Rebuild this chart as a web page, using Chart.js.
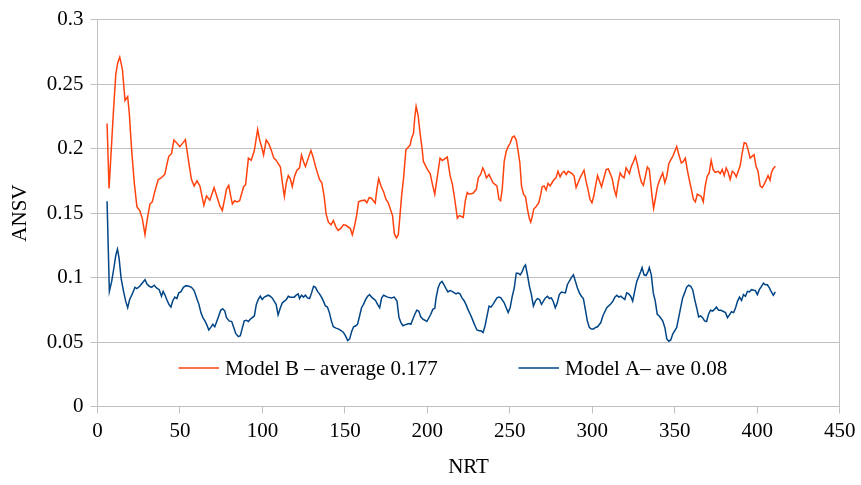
<!DOCTYPE html>
<html>
<head>
<meta charset="utf-8">
<script src="https://cdn.jsdelivr.net/npm/chart.js@4/dist/chart.umd.min.js"></script>
<style>
 html,body{margin:0;padding:0;background:#fff;}
 #wrap{width:861px;height:485px;}
</style>
</head>
<body>
<div id="wrap"><canvas id="chart" width="861" height="485"></canvas></div>
<script>
// x ticks / y ticks
const xTicks=[0,50,100,150,200,250,300,350,400,450];
const yTicks=[0,0.05,0.1,0.15,0.2,0.25,0.3];

const labelB="Model B – average 0.177";
const labelA="Model A– ave 0.08";

// Model B (orange)
const bX=[5.8,7.0,9.7,11.1,12.3,13.5,15.1,16.7,18.3,19.3,20.7,22.3,23.9,25.7,27.2,28.8,30.2,31.8,33.2,34.8,36.8,38.4,40.8,41.8,43.2,44.9,46.3,47.9,49.9,51.9,53.3,56.0,57.0,58.6,60.3,62.1,63.1,64.5,66.1,68.1,70.7,72.3,
74.1,75.7,77.1,78.2,79.6,80.8,81.8,83.2,84.6,86.2,88.6,89.8,91.5,93.2,95.1,97.1,98.3,99.5,100.7,102.3,103.9,105.3,106.9,108.3,110.9,112.1,113.3,114.5,115.7,116.9,118.1,119.5,120.9,122.5,123.7,124.9,126.1,127.8,129.4,130.6,132.2,134.6,136.0,137.4,138.6,140.0,141.6,143.0,144.6,145.9,147.7,149.1,
150.6,153.3,154.5,155.7,157.1,158.3,159.7,162.1,163.3,164.8,166.2,168.4,169.4,170.5,171.9,173.5,174.9,176.3,177.9,178.9,180.0,181.2,182.4,183.4,184.4,185.6,187.0,188.4,189.6,190.4,191.6,192.4,193.2,194.4,195.6,196.9,197.6,200.1,201.7,203.1,204.5,206.1,207.7,209.1,212.1,213.8,215.2,216.6,218.2,219.4,221.8,223.0,224.2,
225.3,227.7,229.7,230.9,232.3,233.6,234.6,235.8,237.4,239.8,242.2,243.4,244.4,245.4,246.6,247.8,249.0,250.2,251.5,252.7,253.9,255.1,256.1,257.1,258.3,259.5,260.7,261.9,262.7,263.5,264.5,265.9,267.6,268.8,269.6,270.8,272.0,273.2,274.4,275.6,276.8,278.0,279.2,280.5,281.7,282.9,284.2,285.4,287.8,289.0,290.2,291.4,292.6,295.0,296.2,297.4,298.6,299.8,
300.9,302.0,303.2,305.6,306.8,308.4,309.7,310.9,312.1,313.3,314.5,315.7,316.9,318.1,319.3,320.5,322.5,323.7,325.0,326.2,327.4,328.6,329.8,331.0,332.2,333.4,334.6,335.4,336.2,337.2,338.2,339.4,340.6,342.7,344.0,345.2,346.4,347.6,348.8,350.0,351.2,352.8,354.0,355.2,356.4,357.6,358.8,360.1,361.3,362.5,363.7,366.1,367.3,368.5,369.7,370.9,372.1,373.3,374.5,
376.4,377.6,378.8,380.0,381.2,382.4,383.6,384.9,386.1,387.3,388.5,389.7,390.9,392.1,393.3,394.5,395.7,396.9,398.1,399.3,400.5,401.8,403.0,404.2,405.4,406.6,407.8,408.6,409.6,411.0];
const bY=[.2194,.169,.2296,.2577,.2666,.2709,.2615,.2373,.2403,.227,.199,.1735,.1549,.1518,.1455,.1332,.1455,.157,.1587,.167,.176,.177,.18,.186,.194,.196,.2066,.2046,.2015,.2046,.207,.1837,.176,.171,.175,.171,.1646,.156,.1633,.16,.1697,.1633,
.1557,.152,.161,.1684,.1715,.163,.157,.1595,.1587,.1595,.1704,.172,.1926,.191,.1985,.2148,.2066,.2015,.195,.2066,.2036,.199,.1926,.191,.1857,.1735,.1628,.1735,.179,.1765,.1704,.1786,.1832,.185,.195,.19,.186,.1926,.1985,.194,.186,.176,.1735,.1633,.1493,.1429,.1409,.1442,.1391,.1365,.1383,.1409,
.1405,.138,.1332,.139,.148,.1587,.1595,.16,.158,.1621,.1613,.1577,.1684,.1766,.171,.1664,.1607,.158,.1518,.148,.134,.1307,.1332,.148,.1633,.1773,.199,.201,.2028,.2079,.2118,.2245,.2327,.2258,.2118,.199,.19,.1837,.1806,.1722,.1646,.1786,.1926,.1908,.1934,.179,.1722,.1607,.146,.148,.1467,.1595,.1659,
.1646,.1653,.1684,.1773,.1799,.185,.1824,.1773,.1799,.1735,.171,.1607,.1595,.1684,.19,.1977,.2015,.2041,.2087,.2097,.2066,.1977,.1888,.171,.1646,.1628,.1531,.1455,.1429,.1467,.1531,.1549,.158,.1646,.1704,.171,.1679,.173,.171,.1735,.176,.1773,.1824,.1781,.1811,.1824,.1799,.1824,.1806,.1786,.1697,.1735,.1773,.1832,.1748,.1684,.1607,.158,
.163,.171,.179,.1704,.176,.1837,.1842,.1806,.1766,.1684,.1633,.1735,.1811,.1786,.1773,.185,.1806,.1862,.19,.1939,.1875,.1799,.174,.1715,.1786,.1857,.1837,.1735,.1633,.1536,.1607,.1697,.1748,.1811,.1735,.1786,.1883,.1913,.1939,.1977,.2015,.1939,.1888,.19,.1926,.1837,.176,.1684,.1607,.1587,.1646,.1628,.1587,.171,.1786,.1811,.1908,.1837,.1816,
.1824,.1806,.1837,.179,.185,.1816,.176,.1824,.1811,.1781,.1824,.1868,.1964,.2046,.2041,.199,.1926,.1939,.1952,.1862,.1824,.171,.1697,.1722,.1755,.179,.1755,.1811,.1842,.1862];

// Model A (blue)
const aX=[5.8,7.2,8.6,9.9,11.1,12.1,13.1,14.3,15.7,17.1,18.3,19.5,21.1,22.7,23.9,25.6,27.2,28.8,30.0,31.4,32.8,34.4,35.8,37.4,38.8,39.8,40.8,42.0,43.3,44.5,45.7,46.9,48.1,49.3,50.5,52.1,53.7,55.4,57.0,58.6,60.1,61.5,62.7,63.9,65.1,66.3,67.5,68.7,69.9,71.1,72.3,73.5,
74.7,75.9,77.2,78.2,79.8,81.4,82.6,83.8,85.4,86.6,87.8,89.0,90.2,91.5,92.6,95.1,96.3,97.5,98.7,99.9,101.1,103.5,104.7,105.9,107.1,108.3,109.5,110.9,112.1,114.5,115.7,116.9,119.3,120.5,121.7,122.5,123.7,124.9,126.1,127.3,128.6,129.8,131.0,132.2,133.4,134.6,135.8,137.0,138.2,139.4,140.6,141.8,143.0,144.6,146.3,147.9,149.1,
150.3,151.7,152.9,154.1,155.3,156.7,157.7,158.9,160.1,161.3,162.6,163.8,165.0,166.2,168.6,169.8,171.1,172.3,173.5,175.9,178.3,179.9,181.6,182.8,184.0,185.2,186.4,187.6,188.8,190.0,191.2,192.4,193.6,194.8,196.0,197.3,198.5,199.7,202.1,203.3,204.5,205.3,206.5,207.7,208.9,210.1,211.3,212.5,213.8,215.0,217.4,218.6,219.8,221.0,222.2,223.4,224.6,
226.5,227.7,228.9,230.1,231.3,232.5,233.8,235.0,236.2,237.4,238.6,239.8,241.0,242.2,243.4,244.6,246.6,247.8,249.0,250.2,251.5,252.7,253.9,255.1,256.3,257.5,258.7,259.5,260.7,261.9,263.1,264.3,265.5,266.7,268.0,269.2,270.4,271.6,272.8,274.0,275.2,276.4,277.6,278.8,280.0,281.3,283.7,284.9,286.2,287.4,288.6,289.8,291.0,292.2,293.4,294.6,295.8,297.0,298.2,299.4,
300.8,302.0,303.2,305.2,306.4,307.6,308.8,311.3,312.5,313.7,314.9,316.1,317.3,318.5,319.7,320.9,322.1,323.3,324.5,325.7,327.0,328.2,329.4,330.2,331.4,332.6,333.8,334.6,335.8,337.0,338.2,339.4,340.6,342.7,344.0,345.2,346.4,347.6,348.8,351.2,352.4,353.6,354.8,356.0,357.2,358.4,359.7,360.9,362.1,363.3,364.5,365.7,366.9,368.1,369.3,370.5,371.7,372.9,374.1,375.3,
376.6,378.0,380.8,382.0,383.2,384.4,385.7,386.9,388.1,389.3,390.5,391.7,392.9,394.1,395.3,396.5,398.9,400.1,401.3,402.6,403.8,405.0,406.2,407.4,408.6,409.8,411.0];
const aY=[.1592,.0893,.097,.1072,.1174,.122,.1148,.0995,.0899,.0817,.0766,.083,.0873,.0924,.0914,.0932,.0957,.0983,.095,.0932,.0924,.094,.0919,.0906,.0855,.0893,.0868,.083,.0792,.0771,.0822,.0848,.0837,.0881,.0888,.0924,.0937,.0932,.0924,.0899,.0842,.0792,.0728,.0689,.0664,.0633,.0593,.0613,.0638,.0618,.0659,.0702,
.0746,.0758,.074,.0689,.0664,.0659,.0613,.0567,.0542,.0549,.0608,.0664,.0669,.0659,.0677,.0702,.0792,.083,.0855,.083,.0848,.0863,.0855,.0842,.0817,.0792,.071,.0766,.0804,.083,.0855,.0848,.0848,.0863,.0873,.0837,.0863,.0848,.0863,.0842,.0837,.0881,.0932,.0924,.0893,.0873,.0848,.0817,.0779,.0771,.0728,.0664,.0618,.0608,.06,.0587,.0574,
.0549,.0511,.0524,.0582,.0618,.0626,.0638,.0702,.0766,.0792,.083,.0855,.0868,.0848,.0822,.0792,.0766,.0842,.0863,.0848,.0842,.0848,.0817,.0689,.0651,.0626,.0633,.0638,.0643,.0638,.0677,.0715,.0746,.074,.0695,.0677,.0669,.0659,.0715,.0753,.0761,.0842,.0919,.0957,.097,.0944,.0914,.0888,.0899,.0893,.0873,.0881,.0873,.0842,.0822,.0792,.0753,
.0702,.0664,.0626,.0593,.0587,.0587,.0574,.0626,.0702,.0779,.0771,.0792,.0817,.0842,.0848,.0842,.0804,.0766,.0728,.0766,.0855,.0919,.1034,.1034,.1021,.1046,.1085,.1097,.1021,.0932,.0868,.0779,.0817,.0837,.083,.0792,.0817,.0842,.0855,.0837,.0842,.0812,.0766,.0804,.0868,.0888,.0881,.0944,.0975,.1001,.1021,.097,.0919,.0881,.0855,.0837,.0753,.0664,.0613,.06,
.06,.0613,.0618,.0651,.0702,.0735,.0766,.0797,.0817,.0848,.0863,.0848,.0855,.0842,.083,.0881,.0873,.0855,.0817,.0893,.097,.1008,.1046,.1077,.1021,.1016,.1046,.1077,.1021,.0881,.0817,.0715,.0702,.0664,.0613,.0524,.0506,.0516,.0562,.0613,.0689,.0766,.0842,.0881,.0924,.094,.0932,.0906,.083,.0766,.0695,.0702,.0689,.0664,.0659,.0715,.0746,.074,.0753,.0771,
.0746,.0746,.0728,.0689,.071,.0735,.0728,.0766,.0817,.0848,.0822,.0868,.0855,.0893,.0888,.0906,.0899,.0868,.0906,.0932,.0957,.0944,.0944,.0919,.0888,.0863,.0888];

const ORANGE="#ff420e",BLUE="#004586",GRID="#c0c0c0";
const FONT={family:"'Liberation Serif','Times New Roman',serif",size:21};

const pts=(xs,ys)=>xs.map((x,i)=>({x,y:ys[i]}));

// legend sits inside the plot, near the bottom
const insideLegend={
 id:"insideLegend",
 afterDraw(chart){
  const {ctx,chartArea:a}=chart;
  const y=a.bottom-38.5;
  const items=[[labelB,ORANGE,a.left+81],[labelA,BLUE,a.left+421]];
  ctx.save();
  ctx.font=FONT.size+"px "+FONT.family;
  ctx.textBaseline="middle";
  ctx.fillStyle="#000";
  items.forEach(([t,c,x0])=>{
   ctx.strokeStyle=c;ctx.lineWidth=1.5;
   ctx.beginPath();ctx.moveTo(x0,y);ctx.lineTo(x0+40.5,y);ctx.stroke();
   ctx.fillText(t,x0+46.5,y+1);
  });
  ctx.restore();
 }
};

new Chart(document.getElementById("chart"),{
 type:"line",
 data:{datasets:[
  {label:labelB,data:pts(bX,bY),borderColor:ORANGE,borderWidth:1.5,pointRadius:0,tension:0,fill:false},
  {label:labelA,data:pts(aX,aY),borderColor:BLUE,borderWidth:1.5,pointRadius:0,tension:0,fill:false}
 ]},
 options:{
  responsive:false,animation:false,
  layout:{padding:{top:15,right:19.3,left:0,bottom:0}},
  plugins:{legend:{display:false},tooltip:{enabled:false}},
  scales:{
   x:{type:"linear",min:0,max:450,
    afterBuildTicks:s=>{s.ticks=xTicks.map(v=>({value:v}));},
    afterFit:s=>{s.height=78.5;},
    ticks:{color:"#000",font:FONT,padding:5.6,maxRotation:0},
    grid:{color:c=>c.tick&&c.tick.value===450?GRID:"transparent",tickColor:GRID,tickLength:7,lineWidth:1},
    border:{color:GRID,width:1},
    title:{display:true,text:"NRT",color:"#000",font:FONT,padding:{top:0,bottom:5.4}}
   },
   y:{min:0,max:0.3,
    afterBuildTicks:s=>{s.ticks=yTicks.map(v=>({value:v}));},
    afterFit:s=>{s.width=97.5;},
    ticks:{color:"#000",font:FONT,padding:7,callback:v=>String(+v.toFixed(2))},
    grid:{color:GRID,tickColor:GRID,tickLength:7,lineWidth:1},
    border:{color:GRID,width:1},
    title:{display:true,text:"ANSV",color:"#000",font:FONT,padding:{top:7.4,bottom:0}}
   }
  }
 },
 plugins:[insideLegend]
});
</script>
</body>
</html>
